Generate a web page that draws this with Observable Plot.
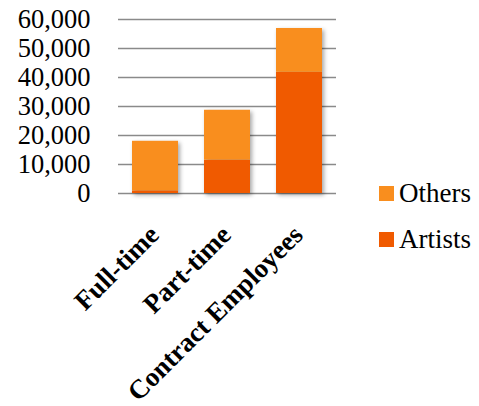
<!DOCTYPE html>
<html>
<head>
<meta charset="utf-8">
<script src="https://cdn.jsdelivr.net/npm/d3@7"></script>
<script src="https://cdn.jsdelivr.net/npm/@observablehq/plot@0.6"></script>
<style>
  html, body { margin: 0; padding: 0; background: #fff; }
  #wrap { position: relative; width: 479px; height: 406px; }
  .leg { position: absolute; display: flex; align-items: center; font-family: "Liberation Serif", serif; font-size: 27px; color: #000; white-space: nowrap; }
  .leg span.sw { display: inline-block; width: 15px; height: 15px; margin-right: 5px; }
</style>
</head>
<body>
<div id="wrap"></div>
<script>
const categories = ["Full-time", "Part-time", "Contract Employees"];
const series = ["Artists", "Others"];
const artists = [900, 11500, 41800];
const others = [17100, 17200, 15100];
const colors = {Artists: "#F05A00", Others: "#F98E1E"};
const yTicks = [0, 10000, 20000, 30000, 40000, 50000, 60000];

const data = [];
categories.forEach((c, i) => {
  data.push({category: c, series: "Artists", value: artists[i]});
  data.push({category: c, series: "Others", value: others[i]});
});

const fmt = d3.format(",");

const chart = Plot.plot({
  width: 479,
  height: 406,
  marginLeft: 118,
  marginRight: 143,
  marginTop: 19,
  marginBottom: 213,
  style: {fontFamily: "Liberation Serif, serif", background: "#fff"},
  x: {domain: categories, paddingInner: 0.36, paddingOuter: 0.18, axis: null},
  y: {domain: [0, 60000], axis: null},
  color: {domain: series, range: series.map(s => colors[s])},
  marks: [
    Plot.ruleY(yTicks, {stroke: "#8a8a8a", strokeWidth: 1.6}),
    Plot.ruleX([0], {frameAnchor: "left", y1: 0, y2: 60000, stroke: "#8a8a8a", strokeWidth: 1.6}),
    Plot.barY(data, Plot.stackY({x: "category", y: "value", fill: "series", order: series, className: "bars"})),
    Plot.text(yTicks, {y: d => d, frameAnchor: "left", text: d => fmt(d), textAnchor: "end", dx: -28, fontSize: 26.5, fill: "#000"}),
    Plot.text(categories, {x: d => d, frameAnchor: "bottom", text: d => d, rotate: -45, textAnchor: "end", lineAnchor: "bottom", dy: 43, dx: 5, fontSize: 27, fontWeight: "bold", fill: "#000"})
  ]
});

document.getElementById("wrap").appendChild(chart);
chart.querySelectorAll("g.bars, g[aria-label='bar']").forEach(g => {
  g.style.filter = "drop-shadow(2px 2px 2px rgba(0,0,0,0.35))";
});

const legendItems = [
  {name: "Others", top: 178},
  {name: "Artists", top: 224}
];
legendItems.forEach(it => {
  const d = document.createElement("div");
  d.className = "leg";
  d.style.left = "379px";
  d.style.top = it.top + "px";
  d.innerHTML = `<span class="sw" style="background:${colors[it.name]}"></span>${it.name}`;
  document.getElementById("wrap").appendChild(d);
});
</script>
</body>
</html>
